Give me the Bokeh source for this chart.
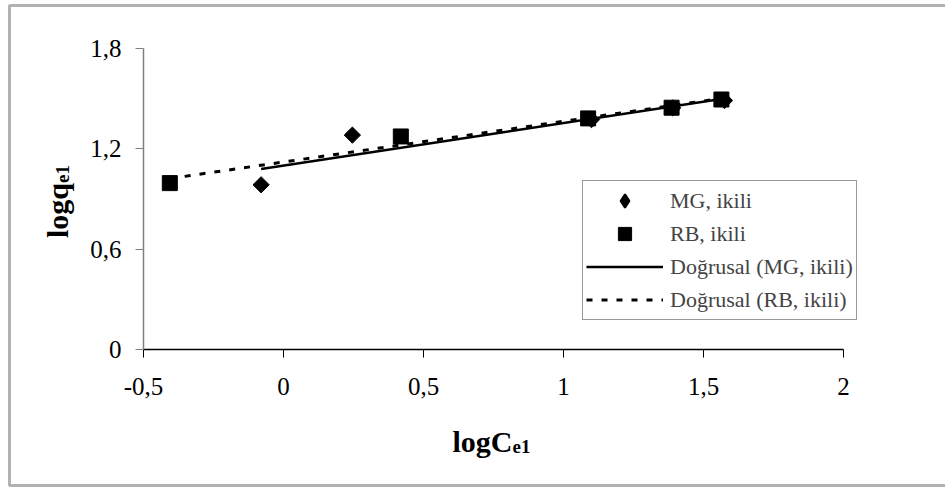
import numpy as np
from bokeh.plotting import figure
from bokeh.models import Range1d, FixedTicker, Legend, LegendItem, Label, BoxAnnotation
from bokeh.embed import file_html
from bokeh.resources import INLINE

# ---- data ----
mg_x = [-0.08, 0.246, 1.10, 1.39, 1.575]
mg_y = [0.985, 1.282, 1.375, 1.445, 1.489]
rb_x = [-0.406, 0.419, 1.088, 1.386, 1.564]
rb_y = [0.995, 1.274, 1.382, 1.446, 1.495]

x_ticks = [-0.5, 0, 0.5, 1, 1.5, 2]
x_tick_labels = ["-0,5", "0", "0,5", "1", "1,5", "2"]
y_ticks = [0, 0.6, 1.2, 1.8]
y_tick_labels = ["0", "0,6", "1,2", "1,8"]

series_names = ["MG, ikili", "RB, ikili"]
trend_names = ["Doğrusal (MG, ikili)", "Doğrusal (RB, ikili)"]

# ---- layout (canvas pixels, measured from the top-left) ----
W, H = 945, 488
PL, PR, PT, PB = 143, 843, 48, 349          # plot-area edges
FONT = "Liberation Serif"
XMIN, XMAX = x_ticks[0], x_ticks[-1]
YMIN, YMAX = y_ticks[0], y_ticks[-1]
sx = (PR - PL) / (XMAX - XMIN)
sy = (PB - PT) / (YMAX - YMIN)

# the frame covers the whole canvas; axes are pinned to the plot area
p = figure(width=W, height=H, output_backend="svg", toolbar_location=None,
           x_range=Range1d(XMIN - PL / sx, XMAX + (W - PR) / sx),
           y_range=Range1d(YMIN - (H - PB) / sy, YMAX + PT / sy),
           min_border=0, min_border_left=0, min_border_right=0,
           min_border_top=0, min_border_bottom=0)
p.xgrid.visible = False
p.ygrid.visible = False
p.outline_line_color = None
p.background_fill_color = "white"
p.border_fill_color = "white"

p.xaxis.fixed_location = YMIN
p.xaxis.bounds = (XMIN, XMAX)
p.yaxis.fixed_location = XMIN
p.yaxis.bounds = (YMIN, YMAX)
p.xaxis.ticker = FixedTicker(ticks=x_ticks)
p.xaxis.major_label_overrides = dict(zip(x_ticks, x_tick_labels))
p.yaxis.ticker = FixedTicker(ticks=y_ticks)
p.yaxis.major_label_overrides = dict(zip(y_ticks, y_tick_labels))
for ax in (p.xaxis, p.yaxis):
    ax.major_label_text_font = FONT
    ax.major_label_text_font_size = "25px"
    ax.major_label_text_color = "black"
    ax.major_tick_in = 0
    ax.major_tick_out = 8
    ax.minor_tick_line_color = None
p.xaxis.axis_line_color = "black"
p.xaxis.axis_line_width = 1.5
p.xaxis.major_tick_line_color = "black"
p.xaxis.major_label_standoff = 20
p.yaxis.axis_line_color = "#808080"
p.yaxis.axis_line_width = 1.5
p.yaxis.major_tick_line_color = "#808080"
p.yaxis.major_label_standoff = 14

# trend lines (least-squares fits of each series)
mg_c = np.polyfit(mg_x, mg_y, 1)
rb_c = np.polyfit(rb_x, rb_y, 1)
mg_lx = [min(mg_x), max(mg_x)]
rb_lx = [min(rb_x), max(rb_x)]
r_mgl = p.line(mg_lx, list(np.polyval(mg_c, mg_lx)), line_color="black", line_width=2.5)
r_rbl = p.line(rb_lx, list(np.polyval(rb_c, rb_lx)), line_color="black", line_width=3,
               line_dash="6 9")

# legend swatch for the diamond series (the legend does not rotate markers);
# drawn first so the rotated squares below cover it completely
r_mg_key = p.scatter(mg_x, mg_y, marker="diamond", size=9, fill_color="black",
                     line_color="black", line_width=2)
# markers
r_mg = p.scatter(mg_x, mg_y, marker="square", size=11.5, angle=np.pi / 4,
                 fill_color="black", line_color="black")
r_rb = p.scatter(rb_x, rb_y, marker="square", size=15,
                 fill_color="black", line_color="black")

legend = Legend(items=[
    LegendItem(label=series_names[0], renderers=[r_mg_key]),
    LegendItem(label=series_names[1], renderers=[r_rb]),
    LegendItem(label=trend_names[0], renderers=[r_mgl]),
    LegendItem(label=trend_names[1], renderers=[r_rbl]),
], location=(582, H - 320))
legend.margin = 0
legend.padding = 3
legend.spacing = 0
legend.glyph_width = 77
legend.glyph_height = 33
legend.label_height = 33
legend.label_standoff = 7
legend.label_text_font = FONT
legend.label_text_font_size = "22px"
legend.border_line_color = "#333333"
legend.border_line_width = 1
legend.background_fill_color = "white"
legend.background_fill_alpha = 1
p.add_layout(legend)

# axis titles with subscripts (screen units = canvas, from bottom-left)
def lab(x, y, text, size, angle=0.0, align="left"):
    p.add_layout(Label(x=x, y=H - y, x_units="screen", y_units="screen", text=text,
                       angle=angle, text_align=align, text_baseline="alphabetic",
                       text_font=FONT, text_font_style="bold", text_font_size=size,
                       text_color="black"))

xc = (PL + PR) / 2
lab(xc + 19, 441, "logC", "30px", align="right")
lab(xc + 19, 446, "e1", "19px", align="left")
yc = (PT + PB) / 2
lab(57, yc - 16, "logq", "30px", angle=np.pi / 2, align="right")
lab(62, yc - 16, "e1", "19px", angle=np.pi / 2, align="left")

# outer chart border
p.add_layout(BoxAnnotation(left=9, right=W + 20, top=H - 5, bottom=H - 485,
                           left_units="screen", right_units="screen",
                           top_units="screen", bottom_units="screen",
                           fill_alpha=0, line_color="black", line_width=3))

open("out.html", "w").write(file_html(p, INLINE))
